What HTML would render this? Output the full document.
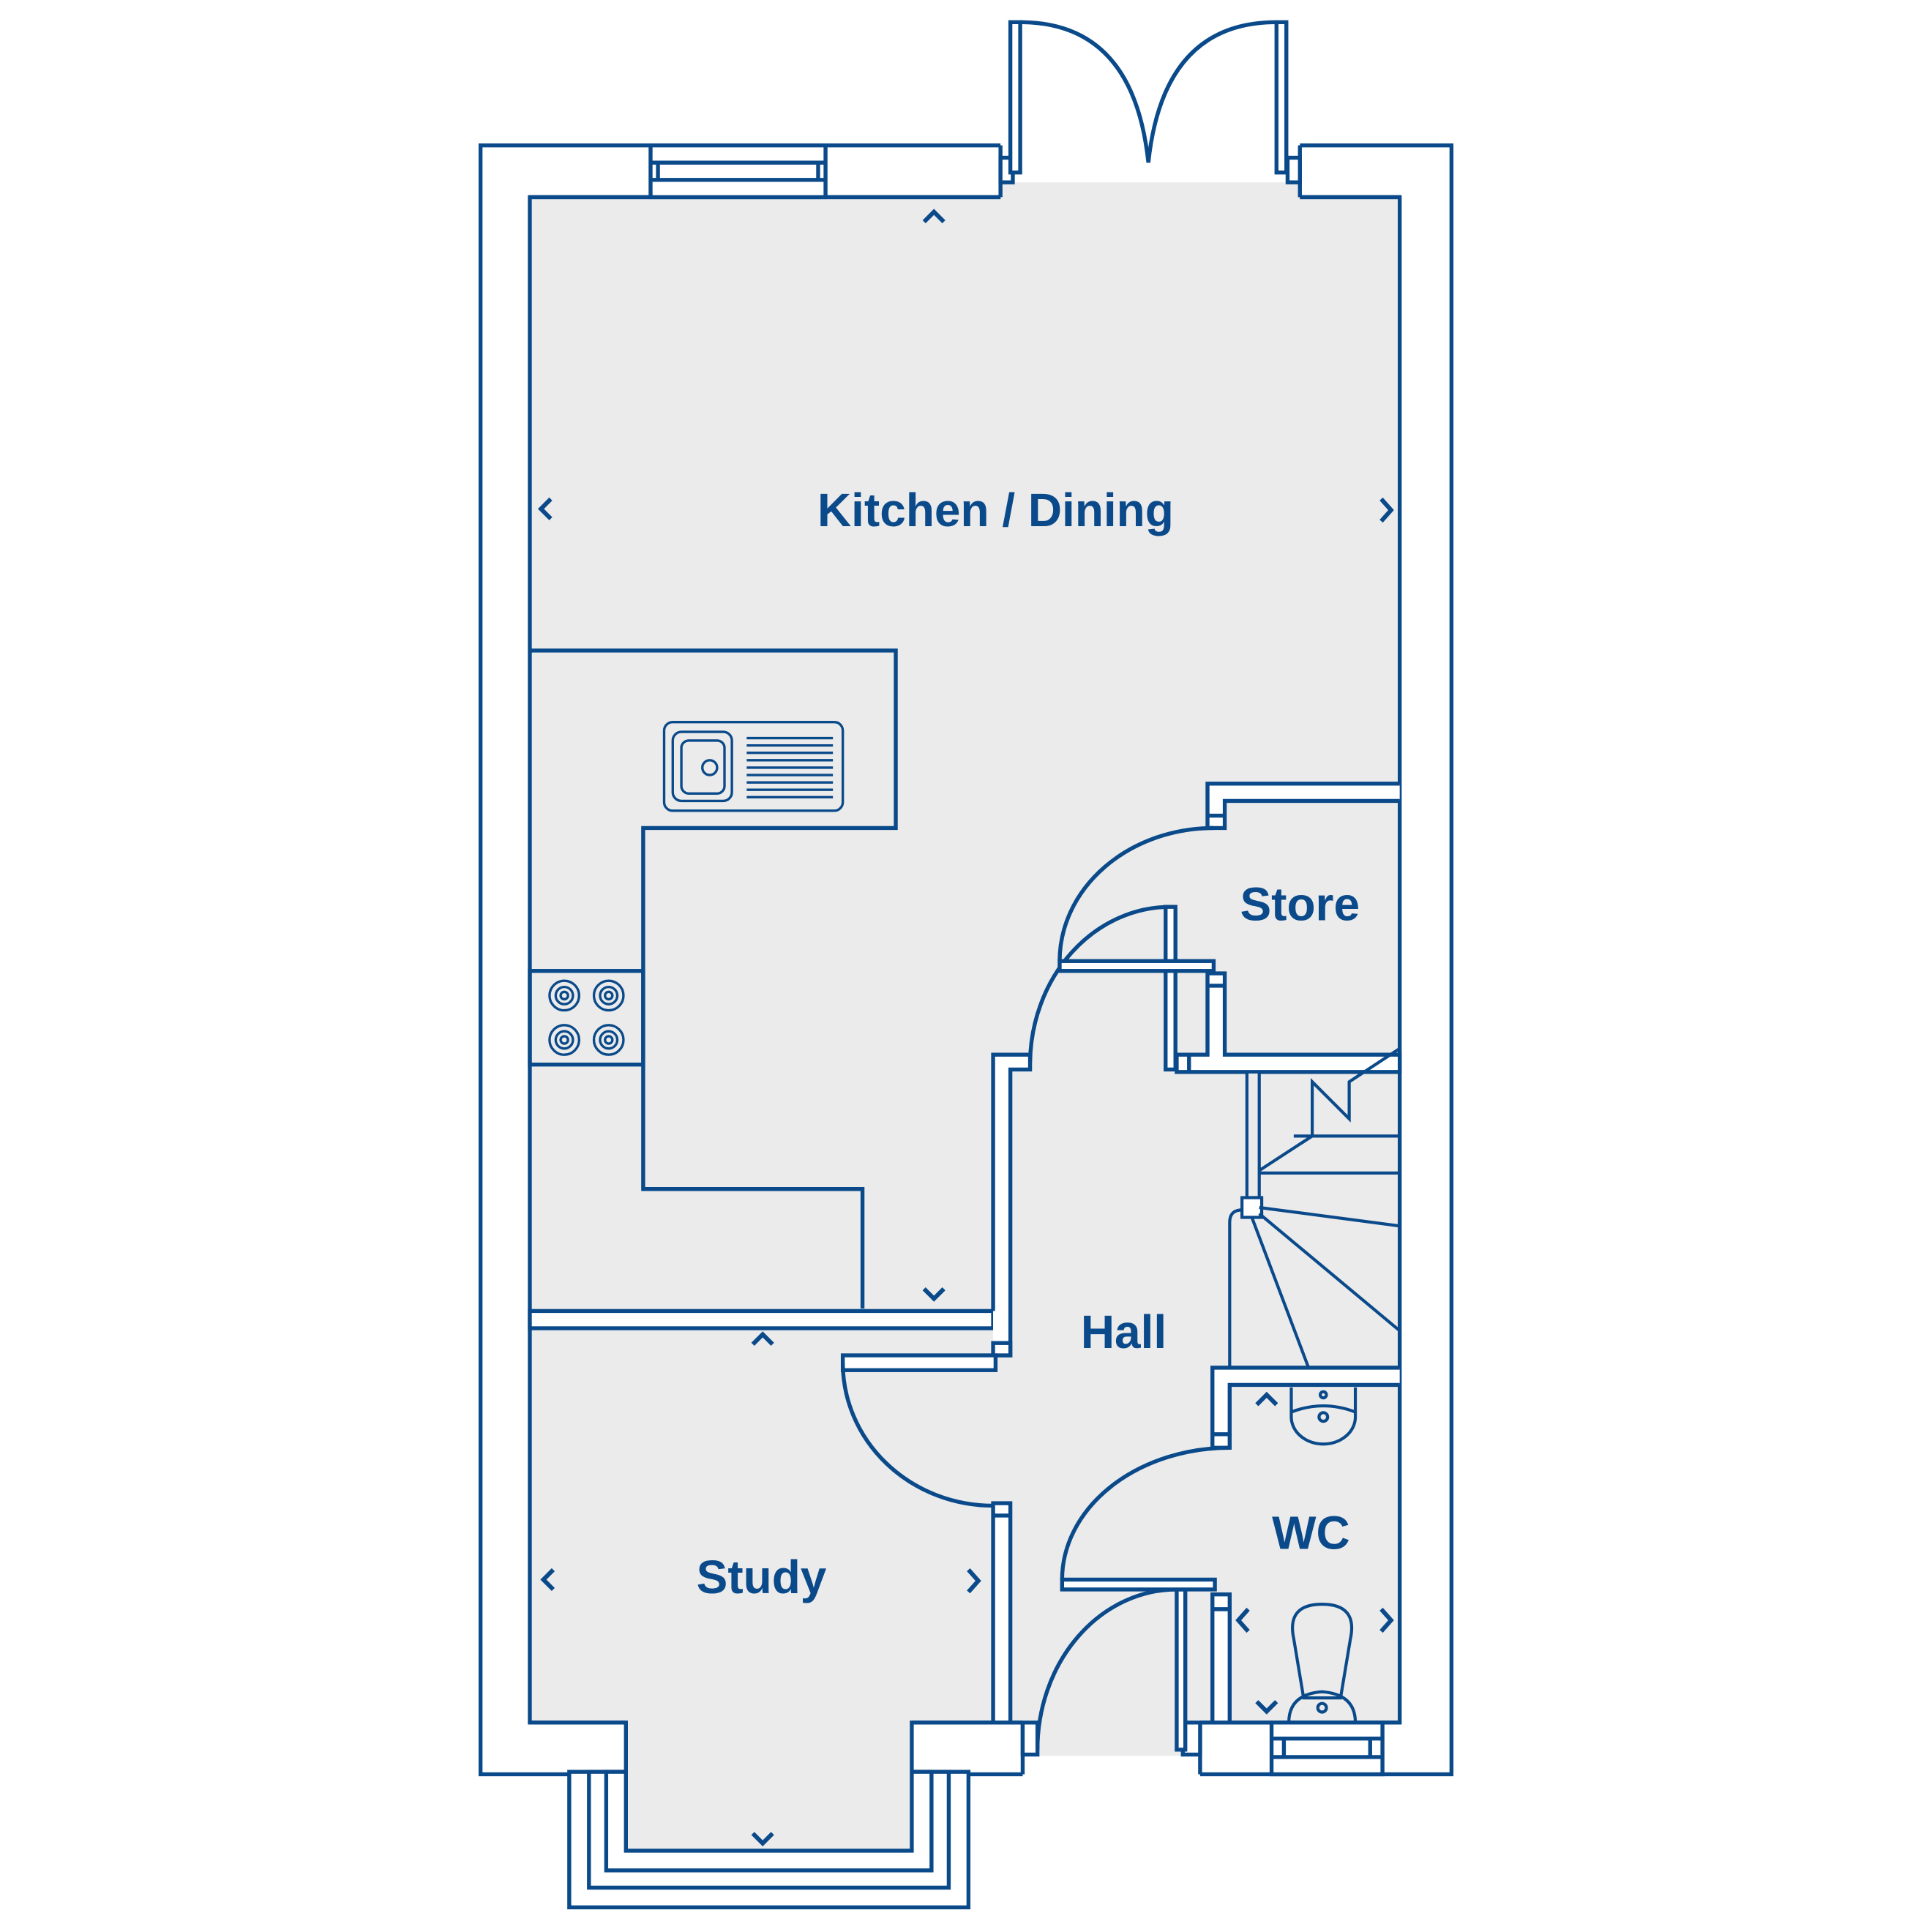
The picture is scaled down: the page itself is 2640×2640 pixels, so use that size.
<!DOCTYPE html>
<html><head><meta charset="utf-8"><style>
html,body{margin:0;padding:0;background:#fff}
svg{display:block}
text{font-family:"Liberation Sans",sans-serif;font-weight:bold;fill:#0b4a8a}
</style></head><body>
<svg width="2640" height="2640" viewBox="0 0 1568 1568" xmlns="http://www.w3.org/2000/svg">
<g fill="none" stroke="#0b4a8a" stroke-width="3.2" stroke-linejoin="miter">
<rect x="390" y="118" width="788" height="1322" fill="#fff"/>
<rect x="430" y="160" width="706" height="1238" fill="#ebebeb"/>
<rect x="812" y="116" width="243" height="45" fill="#fff" stroke="none"/>
<rect x="812" y="148" width="243" height="14" fill="#ebebeb" stroke="none"/>
<line x1="430" y1="160" x2="812" y2="160"/>
<line x1="1055" y1="160" x2="1136" y2="160"/>
<line x1="812" y1="118" x2="812" y2="160"/>
<line x1="1055" y1="118" x2="1055" y2="160"/>
<rect x="812" y="128" width="10" height="20" fill="#fff"/>
<rect x="1045" y="128" width="10" height="20" fill="#fff"/>
<rect x="820" y="18" width="8" height="122" fill="#fff"/>
<rect x="1036" y="18" width="8" height="122" fill="#fff"/>
<path d="M828 18 Q920 18 932 132"/>
<path d="M1036 18 Q944 18 932 132"/>
<rect x="528" y="118" width="142" height="42" fill="#fff"/>
<line x1="528" y1="132" x2="670" y2="132"/>
<line x1="528" y1="146" x2="670" y2="146"/>
<line x1="534" y1="132" x2="534" y2="146"/>
<line x1="664" y1="132" x2="664" y2="146"/>
<rect x="830" y="1396" width="144" height="46" fill="#fff" stroke="none"/>
<rect x="842" y="1396" width="118" height="29" fill="#ebebeb" stroke="none"/>
<path d="M830 1398 L830 1440 M974 1398 L974 1440"/>
<path d="M808 1398 L830 1398 M974 1398 L1136 1398"/>
<rect x="830" y="1398" width="12" height="26" fill="#fff"/>
<rect x="960" y="1398" width="14" height="26" fill="#fff"/>
<rect x="955" y="1290" width="7" height="130" fill="#fff"/>
<path d="M955 1290 A113 130 0 0 0 842 1420"/>
<rect x="1032" y="1398" width="90" height="42" fill="#fff"/>
<line x1="1032" y1="1411" x2="1122" y2="1411"/>
<line x1="1032" y1="1426" x2="1122" y2="1426"/>
<line x1="1042" y1="1411" x2="1042" y2="1426"/>
<line x1="1112" y1="1411" x2="1112" y2="1426"/>
<rect x="462" y="1438" width="324" height="110" fill="#fff"/>
<rect x="478" y="1438" width="292" height="94" fill="#fff"/>
<rect x="492" y="1438" width="264" height="80" fill="#fff"/>
<rect x="508" y="1396" width="232" height="106" fill="#ebebeb" stroke="none"/>
<path d="M430 1398 L508 1398 L508 1502 L740 1502 L740 1398 L808 1398"/>
<path d="M430 528 L727 528 L727 672 L522 672 L522 965 L700 965 L700 1062"/>
<rect x="430" y="788" width="92" height="76"/>
<g stroke-width="2">
<circle cx="458" cy="808" r="12"/><circle cx="458" cy="808" r="7"/><circle cx="458" cy="808" r="3"/>
<circle cx="494" cy="808" r="12"/><circle cx="494" cy="808" r="7"/><circle cx="494" cy="808" r="3"/>
<circle cx="458" cy="844" r="12"/><circle cx="458" cy="844" r="7"/><circle cx="458" cy="844" r="3"/>
<circle cx="494" cy="844" r="12"/><circle cx="494" cy="844" r="7"/><circle cx="494" cy="844" r="3"/>
<rect x="539" y="586" width="145" height="72" rx="7"/>
<rect x="546" y="594" width="48" height="56" rx="7"/>
<rect x="553" y="601" width="35" height="43" rx="6"/>
<circle cx="576" cy="623" r="6"/>
<path d="M606 599H676M606 605H676M606 611H676M606 617H676M606 623H676M606 629H676M606 635H676M606 641H676M606 647H676"/>
</g>
<rect x="430" y="1064" width="376" height="14" fill="#fff"/>
<path d="M806 1064 L806 856 L836 856 L836 868 L820 868 L820 1100 L806 1100" fill="#fff"/>
<rect x="806" y="1090" width="14" height="10" fill="#fff"/>
<rect x="684" y="1100" width="124" height="12" fill="#fff"/>
<path d="M684 1106 A122 116 0 0 0 806 1222"/>
<rect x="806" y="1220" width="14" height="178" fill="#fff"/>
<line x1="806" y1="1230" x2="820" y2="1230"/>
<path d="M836 862 A114 128 0 0 1 950 736"/>
<rect x="946" y="736" width="8" height="132" fill="#fff"/>
<path d="M1136 636 L980 636 L980 672 L994 672 L994 650 L1136 650" fill="#fff"/>
<line x1="980" y1="662" x2="994" y2="662"/>
<rect x="860" y="780" width="125" height="8" fill="#fff"/>
<path d="M860 780 A125 108 0 0 1 985 672"/>
<path d="M980 790 L994 790 L994 856 L1136 856 L1136 870 L955 870 L955 856 L980 856 Z" fill="#fff"/>
<line x1="980" y1="800" x2="994" y2="800"/>
<line x1="965" y1="856" x2="965" y2="870"/>
<g stroke-width="2.5">
<rect x="1012" y="870" width="10" height="102" fill="#ebebeb"/>
<rect x="1008" y="972" width="16" height="16" fill="#fff"/>
<path d="M1022 950 L1065 922 L1065 878 L1095 908 L1095 878 L1136 851"/>
<path d="M1050 922 L1136 922 M1022 952 L1136 952"/>
<path d="M1022 980 L1136 995 M1022 985 L1136 1080 M1016 988 L1062 1110"/>
<path d="M998 1110 L998 992 Q998 982 1008 982"/>
</g>
<path d="M1136 1110 L984 1110 L984 1175 L998 1175 L998 1124 L1136 1124" fill="#fff"/>
<line x1="984" y1="1164" x2="998" y2="1164"/>
<path d="M998 1175 A136 107 0 0 0 862 1282"/>
<rect x="862" y="1282" width="124" height="8" fill="#fff"/>
<rect x="984" y="1294" width="14" height="104" fill="#fff"/>
<line x1="984" y1="1306" x2="998" y2="1306"/>
<g stroke-width="2.5">
<path d="M1048 1126 L1048 1150 A26 22 0 0 0 1100 1150 L1100 1126"/>
<path d="M1048 1146 Q1074 1136 1100 1146"/>
<circle cx="1074" cy="1132" r="2.5"/><circle cx="1074" cy="1150" r="3.5"/>
<path d="M1058 1378 L1050 1330 Q1044 1302 1073 1302 Q1102 1302 1096 1330 L1088 1378 Z"/>
<path d="M1046 1398 Q1046 1375 1073 1373 Q1100 1375 1100 1398"/>
<circle cx="1073" cy="1386" r="3.5"/>
</g>
<g stroke-width="3.5">
<path d="M750 180 L758 172 L766 180"/>
<path d="M447 405 L439 413 L447 421"/>
<path d="M1121 405 L1129 414 L1121 423"/>
<path d="M750 1046 L758 1054 L766 1046"/>
<path d="M611 1091 L619 1083 L627 1091"/>
<path d="M449 1274 L441 1282 L449 1290"/>
<path d="M786 1274 L794 1283 L786 1292"/>
<path d="M611 1488 L619 1496 L627 1488"/>
<path d="M1020 1140 L1028 1132 L1036 1140"/>
<path d="M1013 1306 L1005 1315 L1013 1324"/>
<path d="M1121 1306 L1129 1315 L1121 1324"/>
<path d="M1020 1381 L1028 1389 L1036 1381"/>
</g>
</g>
<text x="808" y="427" font-size="38" text-anchor="middle">Kitchen / Dining</text>
<text x="1055" y="747" font-size="38" text-anchor="middle">Store</text>
<text x="912" y="1094" font-size="38" text-anchor="middle">Hall</text>
<text x="618" y="1293" font-size="38" text-anchor="middle">Study</text>
<text x="1064" y="1257" font-size="38" text-anchor="middle">WC</text>
</svg>
</body></html>
